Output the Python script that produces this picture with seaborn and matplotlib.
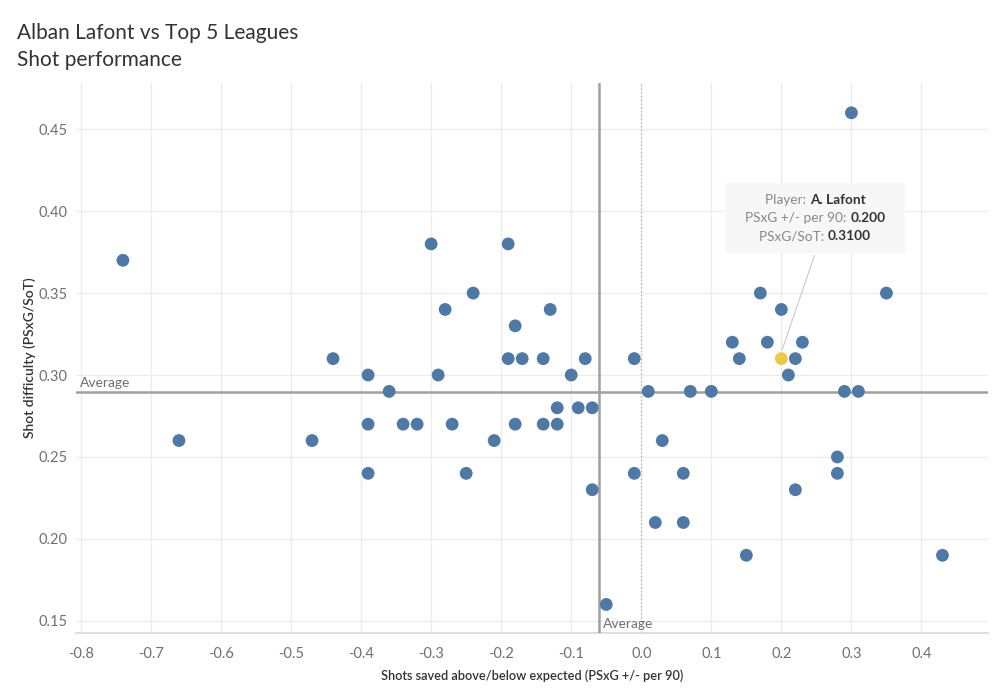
import numpy as np
import pandas as pd
import matplotlib.pyplot as plt
import seaborn as sns

# PSxG +/- per 90 (x) and PSxG/SoT (y) for goalkeepers in the top 5 leagues
psxg_per90 = [
    -0.74, -0.66, -0.47, -0.44, -0.39, -0.39, -0.39, -0.36, -0.34, -0.32,
    -0.30, -0.29, -0.28, -0.27, -0.25, -0.24, -0.21, -0.19, -0.19, -0.18,
    -0.18, -0.17, -0.14, -0.14, -0.13, -0.12, -0.12, -0.10, -0.09, -0.08,
    -0.07, -0.07, -0.05, -0.01, -0.01, 0.01, 0.02, 0.03, 0.06, 0.06,
    0.07, 0.10, 0.13, 0.14, 0.15, 0.17, 0.18, 0.20, 0.21, 0.22,
    0.22, 0.23, 0.28, 0.28, 0.29, 0.30, 0.31, 0.35, 0.43,
]
psxg_sot = [
    0.37, 0.26, 0.26, 0.31, 0.30, 0.27, 0.24, 0.29, 0.27, 0.27,
    0.38, 0.30, 0.34, 0.27, 0.24, 0.35, 0.26, 0.38, 0.31, 0.33,
    0.27, 0.31, 0.31, 0.27, 0.34, 0.28, 0.27, 0.30, 0.28, 0.31,
    0.28, 0.23, 0.16, 0.31, 0.24, 0.29, 0.21, 0.26, 0.24, 0.21,
    0.29, 0.29, 0.32, 0.31, 0.19, 0.35, 0.32, 0.34, 0.30, 0.31,
    0.23, 0.32, 0.25, 0.24, 0.29, 0.46, 0.29, 0.35, 0.19,
]

# highlighted player
lafont_name = "A. Lafont"
lafont_x = [0.20]
lafont_y = [0.31]

avg_x = -0.060
avg_y = 0.2897

x_ticks = [-0.8, -0.7, -0.6, -0.5, -0.4, -0.3, -0.2, -0.1, 0.0, 0.1, 0.2, 0.3, 0.4]
y_ticks = [0.15, 0.20, 0.25, 0.30, 0.35, 0.40, 0.45]

BLUE = "#4e79a7"
YELLOW = "#edc948"
GRID = "#ececec"
TEXT = "#707070"


def main():
    sns.set_theme(style="white")
    plt.rcParams["font.family"] = ["Lato", "DejaVu Sans"]

    df = pd.DataFrame({"x": psxg_per90, "y": psxg_sot})
    df_hl = pd.DataFrame({"x": lafont_x, "y": lafont_y})

    fig = plt.figure(figsize=(10, 7), dpi=100)
    ax = fig.add_axes([0.076, 0.096, 0.912, 0.785])

    sns.scatterplot(data=df, x="x", y="y", ax=ax, color=BLUE, s=85,
                    edgecolor="none", zorder=4)
    sns.scatterplot(data=df_hl, x="x", y="y", ax=ax, color=YELLOW, s=85,
                    edgecolor="none", zorder=5)

    ax.set_xlim(-0.807, 0.495)
    ax.set_ylim(0.1427, 0.478)
    ax.set_xticks(x_ticks)
    ax.set_xticklabels([f"{v:.1f}" for v in x_ticks])
    ax.set_yticks(y_ticks)
    ax.set_yticklabels([f"{v:.2f}" for v in y_ticks])
    ax.grid(True, color=GRID, linewidth=1)
    ax.set_axisbelow(True)
    for side in ["top", "right", "left"]:
        ax.spines[side].set_visible(False)
    ax.spines["bottom"].set_color("#d9d9d9")
    ax.tick_params(axis="both", colors=TEXT, labelsize=10.5, length=0)
    ax.tick_params(axis="x", length=4, color="#d9d9d9", pad=6)
    ax.tick_params(axis="y", pad=6)

    # zero line and averages
    ax.axvline(0, color="#b0b0b0", linestyle=(0, (1, 2)), linewidth=0.9, zorder=2)
    ax.axvline(avg_x, color="#a0a0a0", linewidth=1.8, zorder=3)
    ax.axhline(avg_y, color="#a0a0a0", linewidth=1.8, zorder=3)
    ax.annotate("Average", xy=(0, avg_y), xycoords=("axes fraction", "data"),
                xytext=(3, 2), textcoords="offset points", ha="left", va="bottom",
                fontsize=10, color=TEXT)
    ax.annotate("Average", xy=(avg_x, 0), xycoords=("data", "axes fraction"),
                xytext=(3, 2), textcoords="offset points", ha="left", va="bottom",
                fontsize=10, color=TEXT)

    ax.set_xlabel("Shots saved above/below expected (PSxG +/- per 90)",
                  fontsize=9.2, color="#333333", fontweight="semibold", labelpad=6)
    ax.set_ylabel("Shot difficulty (PSxG/SoT)", fontsize=10, color="#333333",
                  fontweight="semibold", labelpad=2)

    # tooltip-style annotation for the highlighted player
    box_cx = 0.2485
    ax.annotate("", xy=(lafont_x[0], lafont_y[0] + 0.004), xytext=(box_cx, 0.3745),
                arrowprops=dict(arrowstyle="-", color="#c8c8c8", linewidth=0.8),
                zorder=3)
    rect = plt.Rectangle((0.1201, 0.3744), 0.2568, 0.0427, transform=ax.transData,
                         facecolor="#f7f7f7", edgecolor="none", zorder=5)
    ax.add_patch(rect)
    lines = [
        ("Player: ", lafont_name),
        ("PSxG +/- per 90: ", f"{lafont_x[0]:.3f}"),
        ("PSxG/SoT: ", f"{lafont_y[0]:.4f}"),
    ]
    pairs = []
    for i, (lab, val) in enumerate(lines):
        yy = 0.4067 - i * 0.011
        t1 = ax.text(box_cx, yy, lab, ha="left", va="center", fontsize=9.8,
                     color="#888888", zorder=6)
        t2 = ax.text(box_cx, yy, val, ha="left", va="center", fontsize=9.8,
                     color="#333333", fontweight="bold", zorder=6)
        pairs.append((t1, t2, yy))

    # center each label+value line on the box
    fig.canvas.draw()
    renderer = fig.canvas.get_renderer()
    inv = ax.transData.inverted()
    cx_disp = ax.transData.transform((box_cx, 0))[0]
    for t1, t2, yy in pairs:
        w1 = t1.get_window_extent(renderer).width
        w2 = t2.get_window_extent(renderer).width
        left = cx_disp - (w1 + w2) / 2
        x1 = inv.transform((left, 0))[0]
        x2 = inv.transform((left + w1, 0))[0]
        t1.set_x(x1)
        t2.set_x(x2)

    fig.text(0.017, 0.953, "Alban Lafont vs Top 5 Leagues", fontsize=15,
             color="#333333", va="center")
    fig.text(0.017, 0.914, "Shot performance", fontsize=15, color="#333333",
             va="center")

    fig.savefig("out.png", dpi=100)
    plt.close(fig)


if __name__ == "__main__":
    main()
